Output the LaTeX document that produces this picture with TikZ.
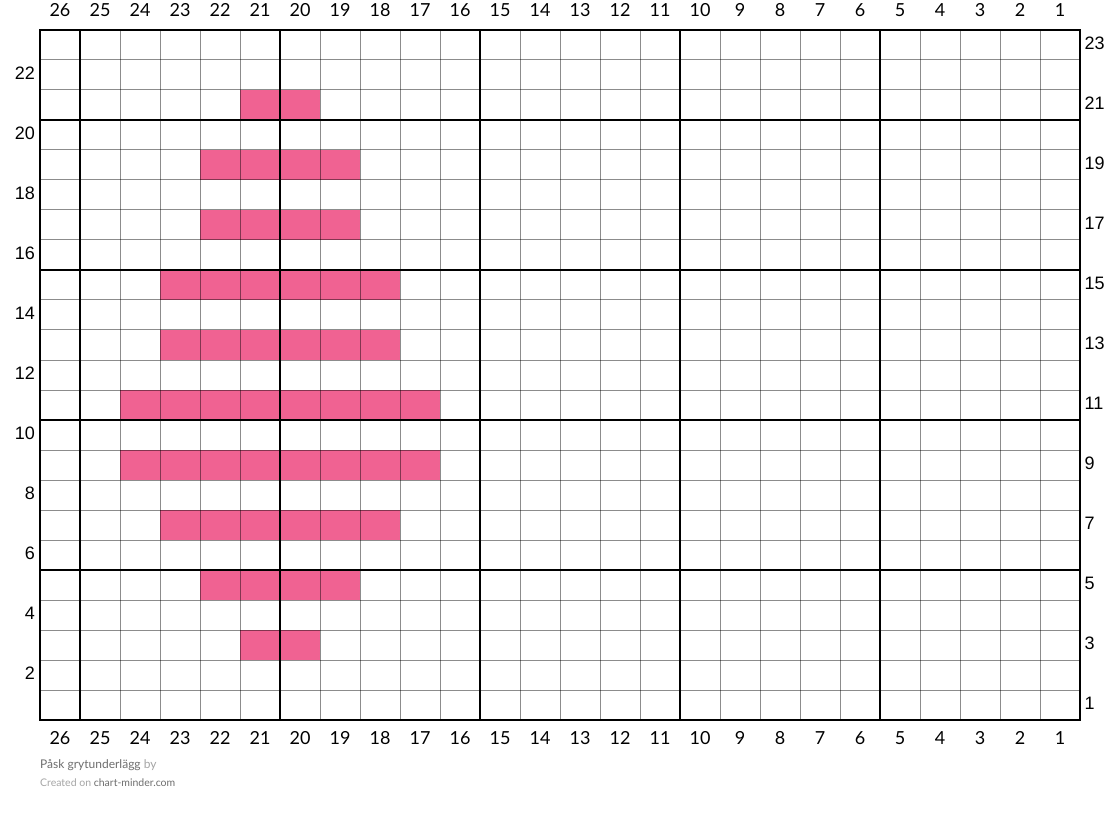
\documentclass[tikz,border=0pt]{standalone}
\usepackage{fontspec}
\setmainfont{Lato}
\newfontfamily\sidefont{Liberation Sans}
\definecolor{stitchpink}{RGB}{240,98,146}
\definecolor{notegray}{RGB}{110,110,110}
\definecolor{lightnote}{RGB}{165,165,165}
\begin{document}
\begin{tikzpicture}[x=1pt,y=-1pt,
		thin grid/.style={draw=black, draw opacity=0.45, line width=1pt},
		thick grid/.style={draw=black, line width=2.5pt},
		stitch/.style={fill=stitchpink},
		numlabel/.style={font=\fontsize{18}{20}\selectfont, inner sep=0},
		sidelabel/.style={font=\sidefont\fontsize{18}{20}\selectfont, inner sep=0},
	]
	\useasboundingbox (0,0) rectangle (1120,813);
	\fill[white] (0,0) rectangle (1120,813);
	% row / first column / last column
	\foreach \r/\a/\b in {21/21/20, 19/22/19, 17/22/19, 15/23/18, 13/23/18,
			11/24/17, 9/24/17, 7/23/18, 5/22/19, 3/21/20}
		\fill[stitch] ({1080-40*\a},{720-30*\r}) rectangle ({1120-40*\b},{750-30*\r});
	% grid
	\foreach \c in {1,...,25}
		\draw[thin grid] ({40+40*\c},30) -- ({40+40*\c},720);
	\foreach \r in {1,...,22}
		\draw[thin grid] (40,{30+30*\r}) -- (1080,{30+30*\r});
	\foreach \x in {80,280,480,680,880}
		\draw[thick grid] (\x,30) -- (\x,720);
	\foreach \y in {120,270,420,570}
		\draw[thick grid] (40,\y) -- (1080,\y);
	\draw[thick grid] (40,30) rectangle (1080,720);
	% numbers
	\foreach \c in {1,...,26} {
		\node[numlabel] (top\c) at ({1100-40*\c},10.4) {\c};
		\node[numlabel] (bot\c) at ({1100-40*\c},738) {\c};
	}
	\foreach \r in {2,4,...,22}
		\node[sidelabel, anchor=east] (left\r) at (35,{733-30*\r}) {\r};
	\foreach \r in {1,3,...,23}
		\node[sidelabel, anchor=west] (right\r) at (1084.5,{733-30*\r}) {\r};
	% footer
	\node[anchor=west, inner sep=0, font=\fontsize{12}{14}\selectfont, text=notegray] (title) at (40,765)
		{Påsk grytunderlägg \textcolor{lightnote}{by}};
	\node[anchor=west, inner sep=0, font=\fontsize{10.5}{12}\selectfont, text=notegray] (credit) at (40,783)
		{\textcolor{lightnote}{Created on} chart-minder.com};
\end{tikzpicture}
\end{document}
